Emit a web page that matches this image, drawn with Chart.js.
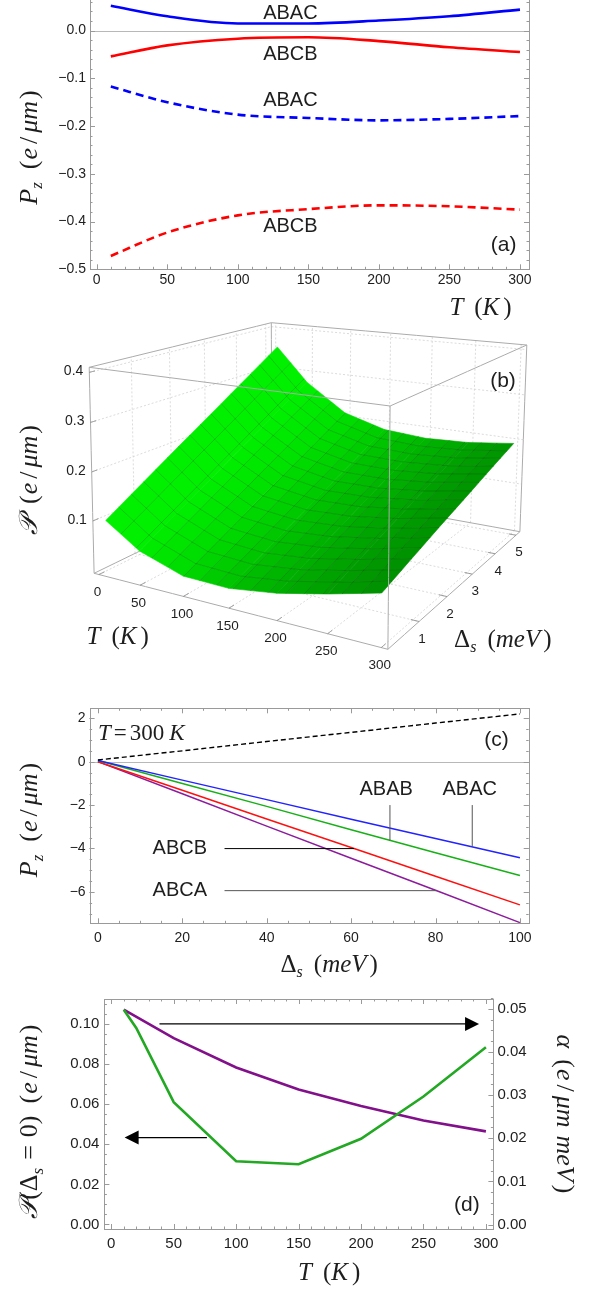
<!DOCTYPE html>
<html>
<head>
<meta charset="utf-8">
<script src="https://cdn.jsdelivr.net/npm/chart.js@4.4.1/dist/chart.umd.min.js"></script>
<style>
  html, body { margin: 0; padding: 0; background: #fff; }
  body { position: relative; width: 595px; height: 1290px; overflow: hidden; }
  .panel { position: absolute; left: 0; width: 595px; }
</style>
</head>
<body>
<div class="panel" style="top:-20px;height:340px"><canvas id="chartA"></canvas></div>
<div class="panel" style="top:310px;height:380px"><canvas id="chartB"></canvas></div>
<div class="panel" style="top:690px;height:295px"><canvas id="chartC"></canvas></div>
<div class="panel" style="top:985px;height:305px"><canvas id="chartD"></canvas></div>
<script>
// ---- (a) polarization P_z vs temperature ----
const tempA = [10, 50, 100, 150, 200, 250, 300];
const abacSolidA = [0.052, 0.030, 0.015, 0.015, 0.021, 0.030, 0.044];
const abcbSolidA = [-0.054, -0.031, -0.017, -0.014, -0.022, -0.035, -0.045];
const abacDashA = [-0.117, -0.150, -0.176, -0.183, -0.188, -0.185, -0.179];
const abcbDashA = [-0.472, -0.423, -0.387, -0.374, -0.366, -0.368, -0.375];
const xTicksA = [0, 50, 100, 150, 200, 250, 300];
const yTicksA = [-0.5, -0.4, -0.3, -0.2, -0.1, 0.0];

// ---- (b) surface P(T, Δs) ----
const surfT = [10, 50, 100, 150, 200, 250, 300];
const surfDelta = [0, 1, 2, 3, 4, 5];
const surfP = [
  [0.107, 0.157, 0.207, 0.256, 0.306, 0.356],
  [0.061, 0.104, 0.147, 0.191, 0.234, 0.277],
  [0.032, 0.068, 0.104, 0.141, 0.177, 0.214],
  [0.030, 0.061, 0.093, 0.124, 0.155, 0.187],
  [0.043, 0.070, 0.098, 0.125, 0.153, 0.180],
  [0.064, 0.088, 0.112, 0.136, 0.160, 0.184],
  [0.088, 0.110, 0.132, 0.153, 0.175, 0.196],
];
const tTicksB = [0, 50, 100, 150, 200, 250, 300];
const dTicksB = [1, 2, 3, 4, 5];
const pTicksB = [0.1, 0.2, 0.3, 0.4];

// ---- (c) P_z vs Δs at T = 300 K ----
const deltaC = [0, 20, 40, 60, 80, 100];
const abacC = [0.05, -0.85, -1.75, -2.65, -3.54, -4.43];
const ababC = [0.05, -1.01, -2.06, -3.14, -4.20, -5.25];
const abcbC = [0.0, -1.32, -2.64, -3.96, -5.28, -6.60];
const abcaC = [0.0, -1.48, -2.97, -4.45, -5.93, -7.42];
const refC = [0.08, 0.50, 0.93, 1.35, 1.78, 2.20];
const xTicksC = [0, 20, 40, 60, 80, 100];
const yTicksC = [-6, -4, -2, 0, 2];

// ---- (d) P(Δs=0) and slope α vs T ----
const tempP0 = [10, 20, 50, 100, 150, 200, 250, 300];
const pZeroD = [0.107, 0.098, 0.061, 0.0315, 0.030, 0.0427, 0.0638, 0.0884];
const tempAlpha = [10, 50, 100, 150, 200, 250, 300];
const alphaD = [0.0498, 0.0432, 0.0364, 0.0313, 0.0275, 0.0241, 0.0216];
const xTicksD = [0, 50, 100, 150, 200, 250, 300];
const yTicksD = [0, 0.02, 0.04, 0.06, 0.08, 0.10];
const y2TicksD = [0, 0.01, 0.02, 0.03, 0.04, 0.05];

const SANS = '"Liberation Sans", Arial, sans-serif';
const SERIF = '"Liberation Serif", "Times New Roman", serif';
const SCRIPT = '"DejaVu Serif", "DejaVu Sans", serif';
const TXT = '#1e1e1e';
const FRAME = '#9a9a9a';

const steps = (a, b, s) => { const r = []; for (let v = a; v <= b + 1e-9; v += s) r.push(+v.toFixed(6)); return r; };
const interp = (xs, ys, x) => {
  let i = 0; while (i < xs.length - 2 && x > xs[i + 1]) i++;
  const f = (x - xs[i]) / (xs[i + 1] - xs[i]);
  return ys[i] + (ys[i + 1] - ys[i]) * f;
};
const lineDs = (xs, ys, color, width, extra) => Object.assign({
  data: xs.map((x, i) => ({ x, y: ys[i] })), borderColor: color, borderWidth: width,
  pointRadius: 0, fill: false, tension: 0,
}, extra || {});

function axis(position, min, max, tickVals, digits, size, pad, fontSize) {
  return {
    type: 'linear', position, min, max,
    grid: { display: false, drawTicks: false },
    border: { display: false },
    ticks: {
      autoSkip: false, maxRotation: 0, padding: pad, color: TXT,
      font: { family: SANS, size: fontSize },
      callback: v => (v < -1e-9 ? '\u2212' : '') + Math.abs(v).toFixed(digits),
    },
    afterBuildTicks: s => { s.ticks = tickVals.map(v => ({ value: v })); },
    afterFit: s => { if (s.isHorizontal()) s.height = size; else s.width = size; },
  };
}

const baseOptions = extra => Object.assign({
  responsive: true, maintainAspectRatio: false, animation: false, events: [],
  plugins: { legend: { display: false }, tooltip: { enabled: false } },
}, extra);

// math-style text: parts = [text, kind]; kind i=italic, r=roman, s=subscript, c=script, gap=px
function rich(ctx, parts, x, y, angle, size, align) {
  const fontFor = k => k === 'i' ? `italic ${size}px ${SERIF}`
    : k === 's' ? `italic ${Math.round(size * 0.64)}px ${SERIF}`
    : k === 'c' ? `italic ${size}px ${SCRIPT}` : `${size}px ${SERIF}`;
  ctx.save();
  ctx.translate(x, y); ctx.rotate(angle || 0);
  ctx.fillStyle = TXT; ctx.textAlign = 'left'; ctx.textBaseline = 'alphabetic';
  const ws = parts.map(([t, k]) => { if (k === 'gap') return t; ctx.font = fontFor(k); return ctx.measureText(t).width; });
  const total = ws.reduce((a, b) => a + b, 0);
  let cx = align === 'left' ? 0 : -total / 2;
  parts.forEach(([t, k], i) => {
    if (k !== 'gap') { ctx.font = fontFor(k); ctx.fillText(t, cx, size * 0.34 + (k === 's' ? size * 0.2 : 0)); }
    cx += ws[i];
  });
  ctx.restore();
}

function decor(cfg) {
  return {
    id: 'decor',
    beforeDatasetsDraw(chart) {
      const { ctx, chartArea: a, scales } = chart;
      if (cfg.zero) {
        const y = Math.round(scales.y.getPixelForValue(0)) + 0.5;
        ctx.save(); ctx.strokeStyle = '#b8b8b8'; ctx.lineWidth = 1;
        ctx.beginPath(); ctx.moveTo(a.left, y); ctx.lineTo(a.right, y); ctx.stroke(); ctx.restore();
      }
      if (cfg.draw3d) cfg.draw3d(chart);
    },
    afterDatasetsDraw(chart) {
      const { ctx, chartArea: a, scales } = chart;
      ctx.save();
      if (cfg.frame) {
        ctx.strokeStyle = FRAME; ctx.lineWidth = 1;
        ctx.strokeRect(Math.round(a.left) + 0.5, Math.round(a.top) + 0.5, Math.round(a.right - a.left), Math.round(a.bottom - a.top));
      }
      (cfg.ticks || []).forEach(t => {
        const sc = scales[t.id];
        [[t.minor || [], 2.5], [t.major, 5]].forEach(([vals, len]) => {
          vals.forEach(v => {
            const p = Math.round(sc.getPixelForValue(v)) + 0.5;
            ctx.strokeStyle = FRAME; ctx.lineWidth = 1; ctx.beginPath();
            t.sides.forEach(side => {
              if (side === 'bottom') { ctx.moveTo(p, a.bottom); ctx.lineTo(p, a.bottom - len); }
              if (side === 'top') { ctx.moveTo(p, a.top); ctx.lineTo(p, a.top + len); }
              if (side === 'left') { ctx.moveTo(a.left, p); ctx.lineTo(a.left + len, p); }
              if (side === 'right') { ctx.moveTo(a.right, p); ctx.lineTo(a.right - len, p); }
            });
            ctx.stroke();
          });
        });
      });
      (cfg.pointers || []).forEach(p => {
        ctx.strokeStyle = p.color || '#444'; ctx.lineWidth = 1; ctx.beginPath();
        ctx.moveTo(scales.x.getPixelForValue(p.x1), scales.y.getPixelForValue(p.y1));
        ctx.lineTo(scales.x.getPixelForValue(p.x2), scales.y.getPixelForValue(p.y2));
        ctx.stroke();
      });
      (cfg.arrows || []).forEach(p => {
        const x1 = scales.x.getPixelForValue(p.x1), x2 = scales.x.getPixelForValue(p.x2);
        const y = scales[p.ys].getPixelForValue(p.y), dir = Math.sign(x2 - x1);
        ctx.strokeStyle = '#000'; ctx.fillStyle = '#000'; ctx.lineWidth = 1.1;
        ctx.beginPath(); ctx.moveTo(x1, y); ctx.lineTo(x2 - dir * 12, y); ctx.stroke();
        ctx.beginPath(); ctx.moveTo(x2, y); ctx.lineTo(x2 - dir * 14, y - 7); ctx.lineTo(x2 - dir * 14, y + 7); ctx.closePath(); ctx.fill();
      });
      (cfg.texts || []).forEach(t => {
        ctx.fillStyle = TXT; ctx.font = `${t.size}px ${SANS}`;
        ctx.textAlign = t.align || 'center'; ctx.textBaseline = 'middle';
        ctx.fillText(t.t, scales.x.getPixelForValue(t.x), scales[t.ys || 'y'].getPixelForValue(t.y));
      });
      (cfg.rich || []).forEach(t => {
        rich(ctx, t.parts, scales.x.getPixelForValue(t.x), scales[t.ys || 'y'].getPixelForValue(t.y), 0, t.size, t.align);
      });
      (cfg.titles || []).forEach(t => rich(ctx, t.parts, t.x, t.y, t.angle, t.size || 25, t.align));
      ctx.restore();
    },
  };
}

const EPM = [['(', 'r'], [1, 'gap'], ['e', 'i'], [4, 'gap'], ['/', 'r'], [4, 'gap'], ['μm', 'i'], [2, 'gap'], [')', 'r']];
const PZ = [['P', 'i'], ['z', 's'], [13, 'gap']].concat(EPM);
const TK = [['T', 'i'], [11, 'gap'], ['(', 'r'], ['K', 'i'], [4, 'gap'], [')', 'r']];
const DS = [['Δ', 'r'], ['s', 's'], [11, 'gap'], ['(', 'r'], ['meV', 'i'], [3, 'gap'], [')', 'r']];
const SP = [['𝒫', 'c'], [12, 'gap']].concat(EPM);
const P0 = [['𝒫', 'c'], ['(', 'r'], ['Δ', 'r'], ['s', 's'], [8, 'gap'], ['=', 'r'], [8, 'gap'], ['0', 'r'], [')', 'r'], [12, 'gap']].concat(EPM);
const AL = [['α', 'i'], [11, 'gap'], ['(', 'r'], [1, 'gap'], ['e', 'i'], [4, 'gap'], ['/', 'r'], [4, 'gap'], ['μm', 'i'], [8, 'gap'], ['meV', 'i'], [3, 'gap'], [')', 'r']];
const T300 = [['T', 'i'], [3, 'gap'], ['=', 'r'], [3, 'gap'], ['300', 'r'], [5, 'gap'], ['K', 'i']];

// ---------- (a) ----------
new Chart(document.getElementById('chartA'), {
  type: 'line',
  data: { datasets: [
    lineDs(tempA, abacSolidA, '#0000ff', 2.6, { cubicInterpolationMode: 'monotone' }),
    lineDs(tempA, abcbSolidA, '#ff0000', 2.6, { cubicInterpolationMode: 'monotone' }),
    lineDs(tempA, abacDashA, '#0000ff', 2.6, { cubicInterpolationMode: 'monotone', borderDash: [8, 5] }),
    lineDs(tempA, abcbDashA, '#ff0000', 2.6, { cubicInterpolationMode: 'monotone', borderDash: [8, 5] }),
  ] },
  options: baseOptions({
    layout: { padding: { left: 0, right: 66, top: 11.76, bottom: 0 } },
    scales: {
      x: axis('bottom', -4.75, 306.4, xTicksA, 0, 50.7, 2, 14),
      y: axis('left', -0.5, 0.08, yTicksA, 1, 90, 4, 14),
    },
  }),
  plugins: [decor({
    zero: true, frame: true,
    ticks: [
      { id: 'x', sides: ['bottom', 'top'], major: xTicksA, minor: steps(0, 300, 10) },
      { id: 'y', sides: ['left', 'right'], major: yTicksA, minor: steps(-0.5, 0.08, 0.02) },
    ],
    texts: [
      { t: 'ABAC', x: 118, y: 0.0366, size: 20, align: 'left' },
      { t: 'ABCB', x: 118, y: -0.0496, size: 20, align: 'left' },
      { t: 'ABAC', x: 118, y: -0.147, size: 20, align: 'left' },
      { t: 'ABCB', x: 118, y: -0.410, size: 20, align: 'left' },
      { t: '(a)', x: 288.4, y: -0.4498, size: 21 },
    ],
    titles: [
      { parts: PZ, x: 28.3, y: 167.5, angle: -Math.PI / 2, size: 26 },
      { parts: TK, x: 480.5, y: 326.7, angle: 0 },
    ],
  })],
});

// ---------- (b) 3D surface ----------
const RANGE_T = [-6, 306], RANGE_D = [0, 5.2], RANGE_P = [-0.008, 0.41];
const toU = T => (T - RANGE_T[0]) / (RANGE_T[1] - RANGE_T[0]);
const toV = D => (D - RANGE_D[0]) / (RANGE_D[1] - RANGE_D[0]);
const toW = p => (p - RANGE_P[0]) / (RANGE_P[1] - RANGE_P[0]);
// box corners (u,v,w) -> page position, with perspective weights
const corners = {
  '000': [94.1, 573.3], '001': [89.2, 367.3],
  '100': [387.9, 649.3], '101': [390.1, 406.0],
  '110': [519.9, 531.7], '111': [526.8, 345.0],
  '010': [272.0, 486.7], '011': [271.3, 322.7],
};
const depthAt = (u, v, w) => 1 - 0.153 * u + 0.257 * v - 0.0224 * (w - 0.5);
function project(u, v, w) {
  let X = 0, Y = 0, W = 0;
  for (const a of [0, 1]) for (const b of [0, 1]) for (const c of [0, 1]) {
    const l = (a ? u : 1 - u) * (b ? v : 1 - v) * (c ? w : 1 - w) * depthAt(a, b, c);
    const p = corners['' + a + b + c];
    X += l * p[0]; Y += l * p[1]; W += l;
  }
  return [X / W, Y / W];
}
function surfZ(T, D) {
  const row = surfP.map(r => interp(surfDelta, r, D));
  return interp(surfT, row, T);
}

function draw3d(chart) {
  const { ctx } = chart;
  const sx = chart.scales.x, sy = chart.scales.y;
  const P = (u, v, w) => { const q = project(u, v, w); return [sx.getPixelForValue(q[0]), sy.getPixelForValue(q[1])]; };
  const path = pts => { ctx.beginPath(); pts.forEach((p, k) => { const q = P(p[0], p[1], p[2]); k ? ctx.lineTo(q[0], q[1]) : ctx.moveTo(q[0], q[1]); }); };
  const line3 = (a, b) => {
    const pts = []; for (let k = 0; k <= 10; k++) { const f = k / 10; pts.push([a[0] + (b[0] - a[0]) * f, a[1] + (b[1] - a[1]) * f, a[2] + (b[2] - a[2]) * f]); }
    path(pts); ctx.stroke();
  };
  ctx.save();
  // face grids
  ctx.strokeStyle = '#d2d2d2'; ctx.lineWidth = 0.8; ctx.setLineDash([2, 2]);
  tTicksB.forEach(T => { const u = toU(T); line3([u, 1, 0], [u, 1, 1]); line3([u, 0, 0], [u, 1, 0]); });
  pTicksB.forEach(p => { const w = toW(p); line3([0, 1, w], [1, 1, w]); line3([0, 0, w], [0, 1, w]); });
  dTicksB.forEach(D => { const v = toV(D); line3([0, v, 0], [0, v, 1]); line3([0, v, 0], [1, v, 0]); });
  ctx.setLineDash([]);
  // hidden box edges
  ctx.strokeStyle = '#ababab'; ctx.lineWidth = 1;
  [[[0, 0, 1], [0, 1, 1]], [[0, 1, 1], [1, 1, 1]], [[0, 1, 0], [0, 1, 1]], [[0, 1, 0], [1, 1, 0]], [[0, 0, 0], [0, 1, 0]]]
    .forEach(e => line3(e[0], e[1]));
  // surface facets
  const tLo = surfT[0], tHi = surfT[surfT.length - 1], dHi = surfDelta[surfDelta.length - 1];
  const meshT = steps(0, 16, 1).map(i => tLo + (tHi - tLo) * i / 16);
  const meshD = steps(0, 16, 1).map(j => dHi * j / 16);
  const Ts = [...new Set(meshT.concat(surfT).map(t => +t.toFixed(4)))].sort((a, b) => a - b);
  const L = [0.80, 0, 0.60];
  const spanT = RANGE_T[1] - RANGE_T[0], spanD = RANGE_D[1] - RANGE_D[0], spanP = RANGE_P[1] - RANGE_P[0];
  const facets = [];
  for (let i = 0; i < Ts.length - 1; i++) for (let j = 0; j < meshD.length - 1; j++) {
    const c = [[Ts[i], meshD[j]], [Ts[i + 1], meshD[j]], [Ts[i + 1], meshD[j + 1]], [Ts[i], meshD[j + 1]]]
      .map(([T, D]) => [toU(T), toV(D), toW(surfZ(T, D))]);
    // smoothed slope at facet centre for soft shading
    const Tm = (Ts[i] + Ts[i + 1]) / 2, Dm = (meshD[j] + meshD[j + 1]) / 2;
    const ta = Math.max(tLo, Tm - 22), tb = Math.min(tHi, Tm + 22);
    const sU = (surfZ(tb, Dm) - surfZ(ta, Dm)) / (tb - ta) * spanT / spanP;
    const sV = (surfZ(Tm, dHi) - surfZ(Tm, 0)) / dHi * spanD / spanP;
    const nl = Math.hypot(sU, sV, 1);
    const lam = Math.max(0, (-sU * L[0] - sV * L[1] + L[2]) / nl);
    const uM = toU(Tm);
    const g = Math.round(Math.max(130, Math.min(240, 236 - 85 * uM + 45 * (lam - 0.5))));
    const m = c.reduce((s, p) => [s[0] + p[0] / 4, s[1] + p[1] / 4, s[2] + p[2] / 4], [0, 0, 0]);
    facets.push({ c, color: `rgb(0,${g},0)`, depth: depthAt(m[0], m[1], m[2]) });
  }
  facets.sort((a, b) => b.depth - a.depth).forEach(f => {
    path(f.c.concat([f.c[0]]));
    ctx.fillStyle = f.color; ctx.fill();
    ctx.strokeStyle = f.color; ctx.lineWidth = 0.6; ctx.stroke();
  });
  // mesh lines
  ctx.strokeStyle = 'rgba(0,40,0,0.30)'; ctx.lineWidth = 0.7;
  meshT.slice(1, -1).forEach(T => { path(meshD.map(D => [toU(T), toV(D), toW(surfZ(T, D))])); ctx.stroke(); });
  meshD.slice(1, -1).forEach(D => { path(Ts.map(T => [toU(T), toV(D), toW(surfZ(T, D))])); ctx.stroke(); });
  // visible box edges
  ctx.strokeStyle = '#ababab'; ctx.lineWidth = 1;
  [[[0, 0, 1], [1, 0, 1]], [[1, 0, 1], [1, 1, 1]], [[0, 0, 0], [0, 0, 1]], [[1, 0, 0], [1, 0, 1]],
   [[1, 1, 0], [1, 1, 1]], [[0, 0, 0], [1, 0, 0]], [[1, 0, 0], [1, 1, 0]]].forEach(e => line3(e[0], e[1]));
  // ticks and labels
  ctx.strokeStyle = '#8a8a8a'; ctx.fillStyle = TXT;
  ctx.font = `13.5px ${SANS}`; ctx.textBaseline = 'middle';
  ctx.textAlign = 'center';
  tTicksB.forEach(T => {
    const u = toU(T); line3([u, 0, 0], [u, 0.025, 0]);
    const q = P(u, 0, 0); ctx.fillText(String(T), q[0] - 1.5, q[1] + 18);
  });
  dTicksB.forEach(D => {
    const v = toV(D); line3([1, v, 0], [0.975, v, 0]);
    const q = P(1, v, 0); ctx.fillText(String(D), q[0] + 3, q[1] + 17.5);
  });
  ctx.textAlign = 'right'; ctx.font = `14px ${SANS}`;
  pTicksB.forEach(p => {
    const w = toW(p); line3([0, 0, w], [0, 0.025, w]);
    const q = P(0, 0, w); ctx.fillText(p.toFixed(1), q[0] - 6, q[1] - 1);
  });
  ctx.restore();
}

new Chart(document.getElementById('chartB'), {
  type: 'scatter',
  data: { datasets: [] },
  options: baseOptions({
    layout: { padding: 0 },
    scales: {
      x: { type: 'linear', min: 0, max: 595, display: false },
      y: { type: 'linear', min: 310, max: 690, reverse: true, display: false },
    },
  }),
  plugins: [decor({
    draw3d,
    texts: [{ t: '(b)', x: 503, y: 381.7, size: 21 }],
    titles: [
      { parts: SP, x: 28.5, y: 170, angle: -Math.PI / 2, size: 26 },
      { parts: TK, x: 117.7, y: 325 },
      { parts: DS, x: 502.8, y: 328.3 },
    ],
  })],
});

// ---------- (c) ----------
new Chart(document.getElementById('chartC'), {
  type: 'line',
  data: { datasets: [
    lineDs(deltaC, refC, '#000000', 1.4, { borderDash: [5, 3] }),
    lineDs(deltaC, abacC, '#2323ff', 1.5),
    lineDs(deltaC, ababC, '#17b017', 1.5),
    lineDs(deltaC, abcbC, '#ff1010', 1.5),
    lineDs(deltaC, abcaC, '#8c1c9c', 1.5),
  ] },
  options: baseOptions({
    layout: { padding: { left: 0, right: 66.3, top: 18.3, bottom: 0 } },
    scales: {
      x: axis('bottom', -1.97, 102.08, xTicksC, 0, 61.7, 6, 14),
      y: axis('left', -7.45, 2.46, yTicksC, 0, 89.6, 4, 14),
    },
  }),
  plugins: [decor({
    zero: true, frame: true,
    ticks: [
      { id: 'x', sides: ['bottom', 'top'], major: xTicksC, minor: steps(0, 100, 5) },
      { id: 'y', sides: ['left', 'right'], major: yTicksC, minor: steps(-7, 2, 0.5) },
    ],
    pointers: [
      { x1: 69.2, y1: -2.0, x2: 69.2, y2: interp(deltaC, ababC, 69.2), color: '#555' },
      { x1: 88.7, y1: -2.0, x2: 88.7, y2: interp(deltaC, abacC, 88.7), color: '#555' },
      { x1: 30.0, y1: interp(deltaC, abcbC, 60.7), x2: 60.7, y2: interp(deltaC, abcbC, 60.7), color: '#000' },
      { x1: 30.0, y1: interp(deltaC, abcaC, 80.2), x2: 80.2, y2: interp(deltaC, abcaC, 80.2), color: '#555' },
    ],
    texts: [
      { t: 'ABAB', x: 68.3, y: -1.30, size: 20 },
      { t: 'ABAC', x: 88.1, y: -1.30, size: 20 },
      { t: 'ABCB', x: 19.4, y: interp(deltaC, abcbC, 60.7), size: 20 },
      { t: 'ABCA', x: 19.4, y: interp(deltaC, abcaC, 80.2), size: 20 },
      { t: '(c)', x: 94.45, y: 1.0, size: 21 },
    ],
    rich: [{ parts: T300, x: 0.02, y: 1.38, size: 23, align: 'left' }],
    titles: [
      { parts: PZ, x: 28.5, y: 130, angle: -Math.PI / 2, size: 26 },
      { parts: DS, x: 329.2, y: 273.3 },
    ],
  })],
});

// ---------- (d) ----------
new Chart(document.getElementById('chartD'), {
  type: 'line',
  data: { datasets: [
    lineDs(tempP0, pZeroD, '#22a822', 2.6, { yAxisID: 'y' }),
    lineDs(tempAlpha, alphaD, '#82108a', 2.6, { yAxisID: 'y2' }),
  ] },
  options: baseOptions({
    layout: { padding: { left: 0, right: 0, top: 4, bottom: 0 } },
    scales: {
      x: axis('bottom', -5.5, 306, xTicksD, 0, 61, 6, 15),
      y: axis('left', -0.00225, 0.1124, yTicksD, 2, 104.4, 5, 15),
      y2: axis('right', -0.00104, 0.05229, y2TicksD, 2, 101.6, 4, 15),
    },
  }),
  plugins: [decor({
    frame: true,
    ticks: [
      { id: 'x', sides: ['bottom', 'top'], major: xTicksD, minor: steps(0, 300, 10) },
      { id: 'y', sides: ['left'], major: yTicksD, minor: steps(0, 0.11, 0.005) },
      { id: 'y2', sides: ['right'], major: y2TicksD, minor: steps(0, 0.0525, 0.0025) },
    ],
    arrows: [
      { x1: 38.6, x2: 294.5, y: 0.1, ys: 'y' },
      { x1: 76.6, x2: 10.7, y: 0.0433, ys: 'y' },
    ],
    texts: [{ t: '(d)', x: 284.8, y: 0.0097, size: 21 }],
    titles: [
      { parts: P0, x: 28.5, y: 136.7, angle: -Math.PI / 2, size: 26 },
      { parts: AL, x: 565.5, y: 129, angle: Math.PI / 2, size: 26 },
      { parts: TK, x: 329.2, y: 286.7 },
    ],
  })],
});
</script>
</body>
</html>
